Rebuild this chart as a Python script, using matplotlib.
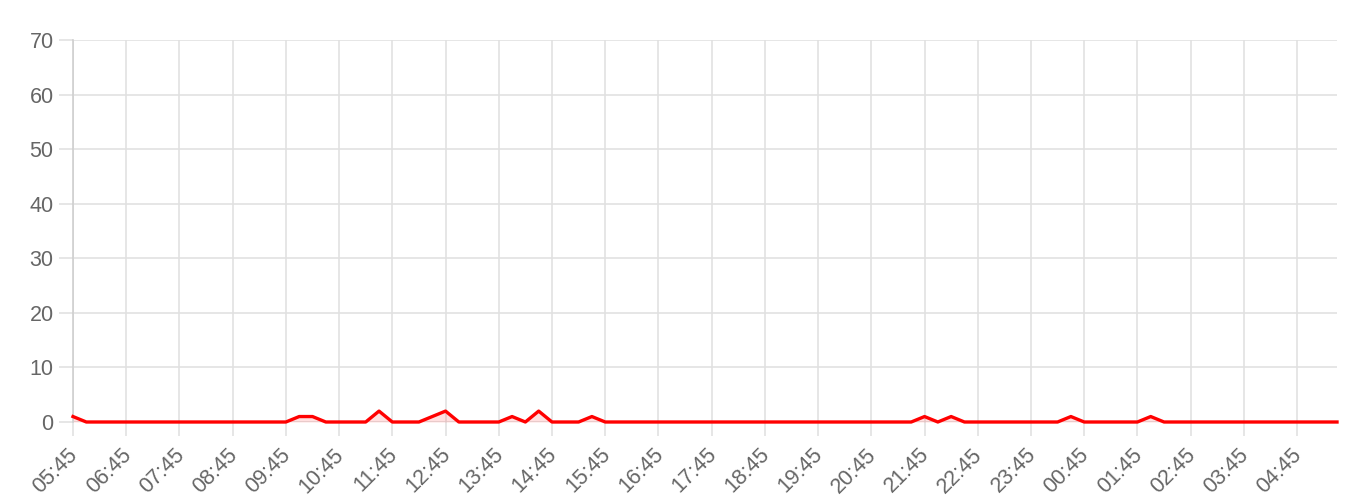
import matplotlib
matplotlib.use("Agg")
import matplotlib.pyplot as plt
import numpy as np

# 15-minute readings from 05:45 to 05:30 the next day
values = [1, 0, 0, 0, 0, 0, 0, 0, 0, 0, 0, 0, 0, 0, 0, 0,
          0, 1, 1, 0, 0, 0, 0, 2, 0, 0, 0, 1, 2, 0, 0, 0,
          0, 1, 0, 2, 0, 0, 0, 1, 0, 0, 0, 0, 0, 0, 0, 0,
          0, 0, 0, 0, 0, 0, 0, 0, 0, 0, 0, 0, 0, 0, 0, 0,
          1, 0, 1, 0, 0, 0, 0, 0, 0, 0, 0, 1, 0, 0, 0, 0,
          0, 1, 0, 0, 0, 0, 0, 0, 0, 0, 0, 0, 0, 0, 0, 0]

hour_labels = ["05:45", "06:45", "07:45", "08:45", "09:45", "10:45", "11:45", "12:45",
               "13:45", "14:45", "15:45", "16:45", "17:45", "18:45", "19:45", "20:45",
               "21:45", "22:45", "23:45", "00:45", "01:45", "02:45", "03:45", "04:45"]

y_ticks = [0, 10, 20, 30, 40, 50, 60, 70]

plt.rcParams['font.family'] = ['Liberation Sans', 'DejaVu Sans']

x = np.arange(len(values))
grid_color = "#e1e1e1"
text_color = "#666666"

fig = plt.figure(figsize=(13.6, 5.03), dpi=100)
ax = fig.add_axes([73 / 1360, (503 - 422) / 503, (1337 - 73) / 1360, (422 - 40) / 503])

ax.fill_between(x, values, 0, color="red", alpha=0.12, linewidth=0)
ax.plot(x, values, color="red", linewidth=2.4, solid_joinstyle="round", zorder=3, clip_on=False)

ax.set_xlim(0, len(values) - 1)
ax.set_ylim(0, 70)
ax.set_yticks(y_ticks)
ax.set_xticks(np.arange(0, len(values), 4))
ax.set_xticklabels(hour_labels, rotation=45, ha="right", va="center_baseline", rotation_mode="anchor")

ax.grid(True, color=grid_color, linewidth=1.2)
ax.set_axisbelow(True)
for side in ["top", "right", "bottom"]:
    ax.spines[side].set_visible(False)
ax.spines["left"].set_color("#cfcfcf")
ax.spines["left"].set_linewidth(1.2)

ax.tick_params(axis="both", colors=grid_color, width=1.2, length=10, labelcolor=text_color, labelsize=15.5)
ax.tick_params(axis="y", pad=4)
ax.tick_params(axis="x", pad=10)

fig.savefig("out.png", dpi=100)
